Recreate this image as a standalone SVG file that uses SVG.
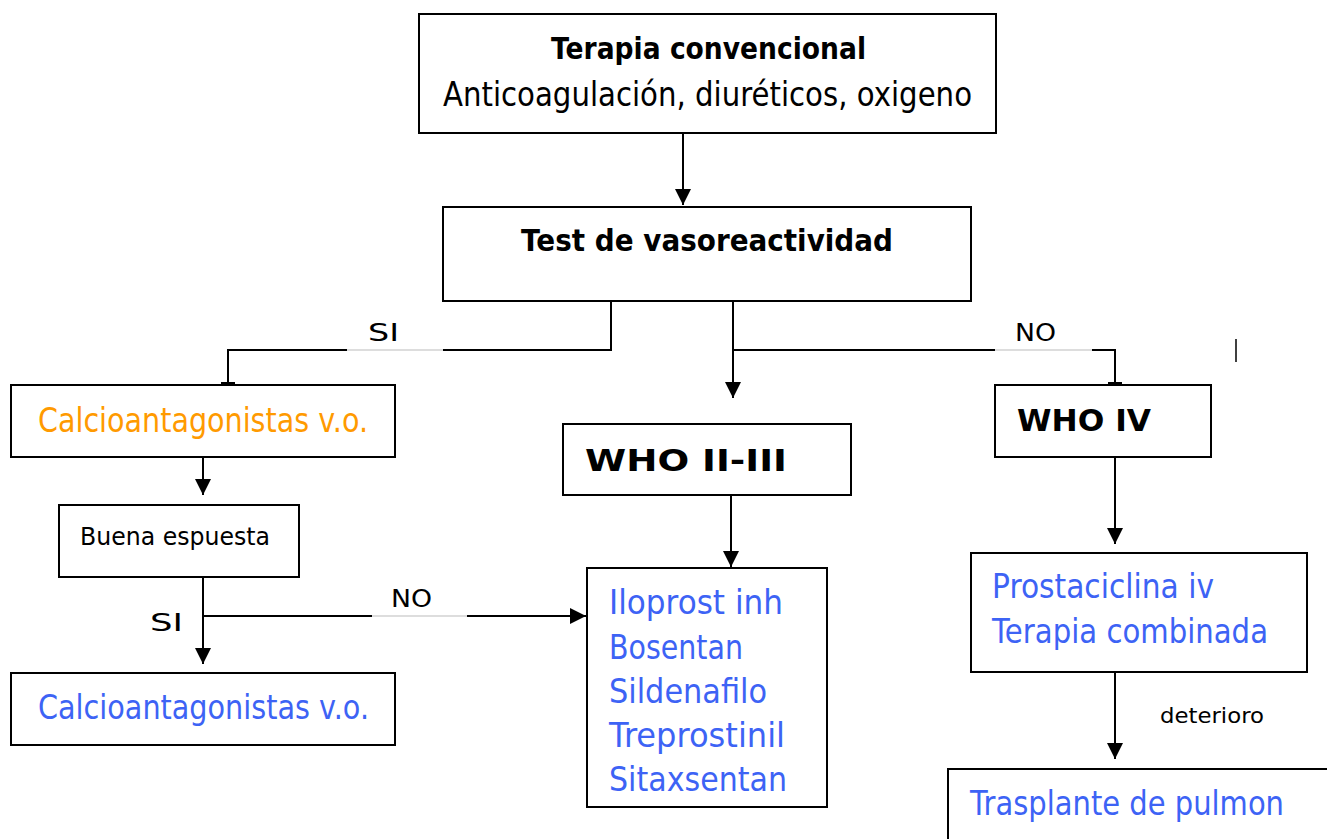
<svg xmlns="http://www.w3.org/2000/svg" width="1327" height="839" viewBox="0 0 1327 839">
<style>
.box{fill:#fff;stroke:#000;stroke-width:2}
.t{font-family:"DejaVu Sans","Noto Sans",sans-serif;fill:#000}
.b{font-weight:bold}
.blue{fill:#3d63f5}
.orange{fill:#ff9a00}
.ln{fill:none;stroke:#000;stroke-width:2}
.gap{fill:none;stroke:#bbb;stroke-width:1}
</style>
<defs>
<marker id="arr" markerUnits="userSpaceOnUse" markerWidth="16" markerHeight="16" viewBox="0 0 16 16" refX="16" refY="8" orient="auto">
<path d="M0,0 L16,8 L0,16 Z" fill="#000"/>
</marker>
<marker id="tee" markerUnits="userSpaceOnUse" markerWidth="4" markerHeight="16" viewBox="0 0 4 16" refX="2" refY="8" orient="auto">
<rect x="0" y="1" width="4" height="14" fill="#000"/>
</marker>
</defs>
<rect width="1327" height="839" fill="#fff"/>
<g id="connectors">
<path class="ln" d="M683,133 V205" marker-end="url(#arr)"/>
<path class="ln" d="M611,301 V350 H443"/>
<path class="gap" d="M443,350 H347"/>
<path class="ln" d="M347,350 H228 V384" marker-end="url(#tee)"/>
<path class="ln" d="M733,301 V398" marker-end="url(#arr)"/>
<path class="ln" d="M733,350 H995"/>
<path class="gap" d="M995,350 H1092"/>
<path class="ln" d="M1092,350 H1115 V384" marker-end="url(#tee)"/>
<path class="ln" d="M203,457 V495" marker-end="url(#arr)"/>
<path class="ln" d="M203,577 V664" marker-end="url(#arr)"/>
<path class="ln" d="M203,616 H372"/>
<path class="gap" d="M372,616 H467"/>
<path class="ln" d="M467,616 H586" marker-end="url(#arr)"/>
<path class="ln" d="M731,495 V567" marker-end="url(#arr)"/>
<path class="ln" d="M1115,457 V544" marker-end="url(#arr)"/>
<path class="ln" d="M1115,672 V759" marker-end="url(#arr)"/>
<text class="t" x="368" y="341" font-size="25" textLength="31" lengthAdjust="spacingAndGlyphs">SI</text>
<text class="t" x="1015" y="341" font-size="25" textLength="41" lengthAdjust="spacingAndGlyphs">NO</text>
<text class="t" x="150" y="631" font-size="25" textLength="33" lengthAdjust="spacingAndGlyphs">SI</text>
<text class="t" x="391" y="607" font-size="25" textLength="41" lengthAdjust="spacingAndGlyphs">NO</text>
<text class="t" x="1160" y="723" font-size="21" textLength="104" lengthAdjust="spacingAndGlyphs">deterioro</text>
<line x1="1236" y1="339" x2="1236" y2="362" stroke="#000" stroke-width="1.5"/>
</g>
<g id="n-terapia">
<rect class="box" x="419" y="14" width="577" height="119"/>
<text class="t b" x="551" y="59" font-size="30" textLength="315" lengthAdjust="spacingAndGlyphs">Terapia convencional</text>
<text class="t" x="443" y="106" font-size="33" textLength="529" lengthAdjust="spacingAndGlyphs">Anticoagulación, diuréticos, oxigeno</text>
</g>
<g id="n-test">
<rect class="box" x="443" y="207" width="528" height="94"/>
<text class="t b" x="521" y="251" font-size="30" textLength="372" lengthAdjust="spacingAndGlyphs">Test de vasoreactividad</text>
</g>
<g id="n-calcio1">
<rect class="box" x="11" y="385" width="384" height="72"/>
<text class="t orange" x="38" y="432" font-size="33" textLength="330" lengthAdjust="spacingAndGlyphs">Calcioantagonistas v.o.</text>
</g>
<g id="n-buena">
<rect class="box" x="59" y="505" width="240" height="72"/>
<text class="t" x="80" y="545" font-size="25" textLength="190" lengthAdjust="spacingAndGlyphs">Buena espuesta</text>
</g>
<g id="n-calcio2">
<rect class="box" x="11" y="673" width="384" height="72"/>
<text class="t blue" x="38" y="719" font-size="33" textLength="331" lengthAdjust="spacingAndGlyphs">Calcioantagonistas v.o.</text>
</g>
<g id="n-who23">
<rect class="box" x="563" y="424" width="288" height="71"/>
<text class="t b" x="585" y="471" font-size="31" textLength="202" lengthAdjust="spacingAndGlyphs">WHO II-III</text>
</g>
<g id="n-ilo">
<rect class="box" x="587" y="568" width="240" height="239"/>
<text class="t blue" x="609" y="614" font-size="33" textLength="174" lengthAdjust="spacingAndGlyphs">Iloprost inh</text>
<text class="t blue" x="609" y="659" font-size="33" textLength="134" lengthAdjust="spacingAndGlyphs">Bosentan</text>
<text class="t blue" x="609" y="703" font-size="33" textLength="158" lengthAdjust="spacingAndGlyphs">Sildenafilo</text>
<text class="t blue" x="609" y="747" font-size="33" textLength="176" lengthAdjust="spacingAndGlyphs">Treprostinil</text>
<text class="t blue" x="609" y="791" font-size="33" textLength="178" lengthAdjust="spacingAndGlyphs">Sitaxsentan</text>
</g>
<g id="n-who4">
<rect class="box" x="995" y="385" width="216" height="72"/>
<text class="t b" x="1017" y="431" font-size="31" textLength="134" lengthAdjust="spacingAndGlyphs">WHO IV</text>
</g>
<g id="n-prosta">
<rect class="box" x="971" y="553" width="336" height="119"/>
<text class="t blue" x="992" y="598" font-size="33" textLength="222" lengthAdjust="spacingAndGlyphs">Prostaciclina iv</text>
<text class="t blue" x="992" y="643" font-size="33" textLength="276" lengthAdjust="spacingAndGlyphs">Terapia combinada</text>
</g>
<g id="n-trasplante">
<rect class="box" x="948" y="769" width="400" height="90"/>
<text class="t blue" x="970" y="815" font-size="33" textLength="314" lengthAdjust="spacingAndGlyphs">Trasplante de pulmon</text>
</g>
</svg>
